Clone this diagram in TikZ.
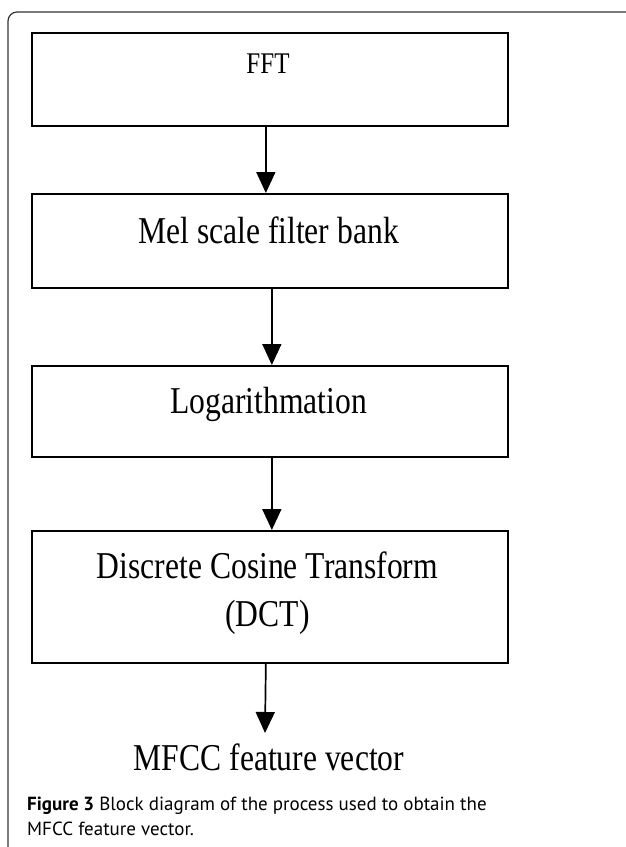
\documentclass[tikz,border=0pt]{standalone}
\usepackage{fontspec}
\setmainfont{Liberation Serif}
\newfontfamily\capfont{PT Sans}
\usetikzlibrary{arrows.meta}
\tikzset{
  stagebox/.style={draw=black, line width=1.7pt, minimum width=476pt, minimum height=#1, inner sep=0pt, anchor=north west},
  flow/.style={line width=1.7pt, -{Triangle[length=21pt,width=19pt]}},
  boxtext/.style={anchor=base, inner sep=0pt},
  frame/.style={draw=black!80, line width=1.2pt, rounded corners=9pt}
}
\newcommand{\bt}[1]{\scalebox{1}[1.2]{\fontsize{31.6}{40.8}\selectfont #1}}
\begin{document}
\begin{tikzpicture}[x=1pt,y=-1pt]
\useasboundingbox (0,0) rectangle (625,847);
\draw[frame] (8,847) -- (8,12) -- (626,12);
% boxes
\node[stagebox=93pt] (b1) at (31,32) {};
\node[stagebox=94pt] (b2) at (31,193) {};
\node[stagebox=91pt] (b3) at (31,365) {};
\node[stagebox=132pt] (b4) at (31,530) {};
% texts
\node[boxtext] (t1) at (268,73) {\scalebox{1}[1.2]{\fontsize{25}{30}\selectfont FFT}};
\node[boxtext] (t2) at (268.5,243) {\bt{Mel scale filter bank}};
\node[boxtext] (t3) at (268.5,413) {\bt{Logarithmation}};
\node[boxtext] (t4) at (267.5,578) {\bt{\begin{tabular}[t]{@{}c@{}}Discrete Cosine Transform\\(DCT)\end{tabular}}};
\node[boxtext] (t5) at (269,770) {\bt{MFCC feature vector}};
\coordinate (mtop) at (265,733);
% arrows
\draw[flow] ([xshift=-4pt]b1.south) -- ([xshift=-4pt]b2.north);
\draw[flow] ([xshift=2pt]b2.south) -- ([xshift=2pt]b3.north);
\draw[flow] ([xshift=2pt]b3.south) -- ([xshift=2pt]b4.north);
\draw[flow] ([xshift=-4pt]b4.south) -- (mtop);
% caption
\node[anchor=base west, inner sep=0pt] (cap) at (27,810) {\capfont\fontsize{19}{25}\selectfont\begin{tabular}[t]{@{}l@{}}\textbf{Figure 3} Block diagram of the process used to obtain the\\MFCC feature vector.\end{tabular}};
\end{tikzpicture}
\end{document}
